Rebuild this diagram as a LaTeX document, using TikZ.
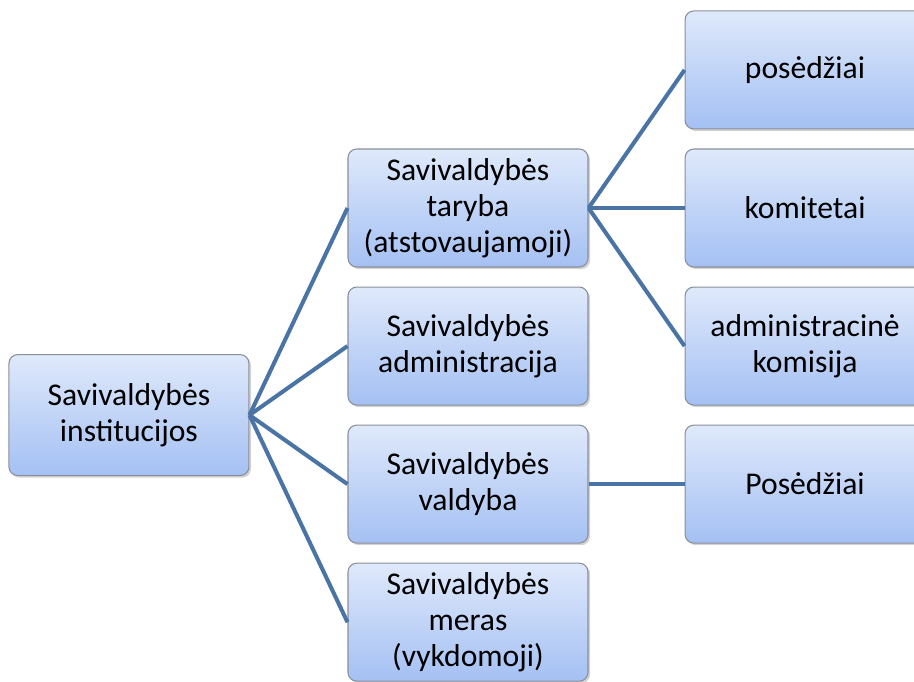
\documentclass[tikz,border=0pt]{standalone}
\usepackage{fontspec}
\setmainfont{Carlito}
\usetikzlibrary{positioning,shadows,calc}
\definecolor{boxtop}{HTML}{DFE9FB}
\definecolor{boxbot}{HTML}{A4C0F3}
\definecolor{boxline}{HTML}{8A8F99}
\definecolor{linkblue}{HTML}{4A74A6}
\tikzset{
    orgbox/.style={rectangle,rounded corners=5pt,draw=boxline,line width=0.6pt,
        top color=boxtop,bottom color=boxbot,minimum width=4.8cm,minimum height=2.36cm,
        align=center,inner sep=2pt,font=\fontsize{18}{20.4}\selectfont,
        drop shadow={opacity=0.35,shadow xshift=1.2pt,shadow yshift=-1.2pt}},
    link/.style={draw=linkblue,line width=2.3pt},
}

\begin{document}
\begin{tikzpicture}[node distance=0.38cm and 1.92cm]
    \useasboundingbox (-9.36,4.16) rectangle (8.92,-9.46);
    % middle column
    \node[orgbox] (tar) at (0,0) {Savivaldybės\\taryba\\(atstovaujamoji)};
    \node[orgbox,below=of tar] (adm) {Savivaldybės\\administracija};
    \node[orgbox,below=of adm] (val) {Savivaldybės\\valdyba};
    \node[orgbox,below=of val] (mer) {Savivaldybės\\meras\\(vykdomoji)};
    % root
    \coordinate (mid) at ($(adm.west)!0.5!(val.west)$);
    \node[orgbox,minimum height=2.42cm,left=1.96cm of mid] (inst) {Savivaldybės\\institucijos};
    % right column
    \node[orgbox,right=of tar] (kom) {komitetai};
    \node[orgbox,above=of kom] (pos) {posėdžiai};
    \node[orgbox,below=of kom] (akom) {administracinė\\komisija};
    \node[orgbox,right=of val] (vpos) {Posėdžiai};
    % links
    \draw[link] (inst.east) -- (tar.west);
    \draw[link] (inst.east) -- (adm.west);
    \draw[link] (inst.east) -- (val.west);
    \draw[link] (inst.east) -- (mer.west);
    \draw[link] (tar.east) -- (pos.west);
    \draw[link] (tar.east) -- (kom.west);
    \draw[link] (tar.east) -- (akom.west);
    \draw[link] (val.east) -- (vpos.west);
\end{tikzpicture}
\end{document}
